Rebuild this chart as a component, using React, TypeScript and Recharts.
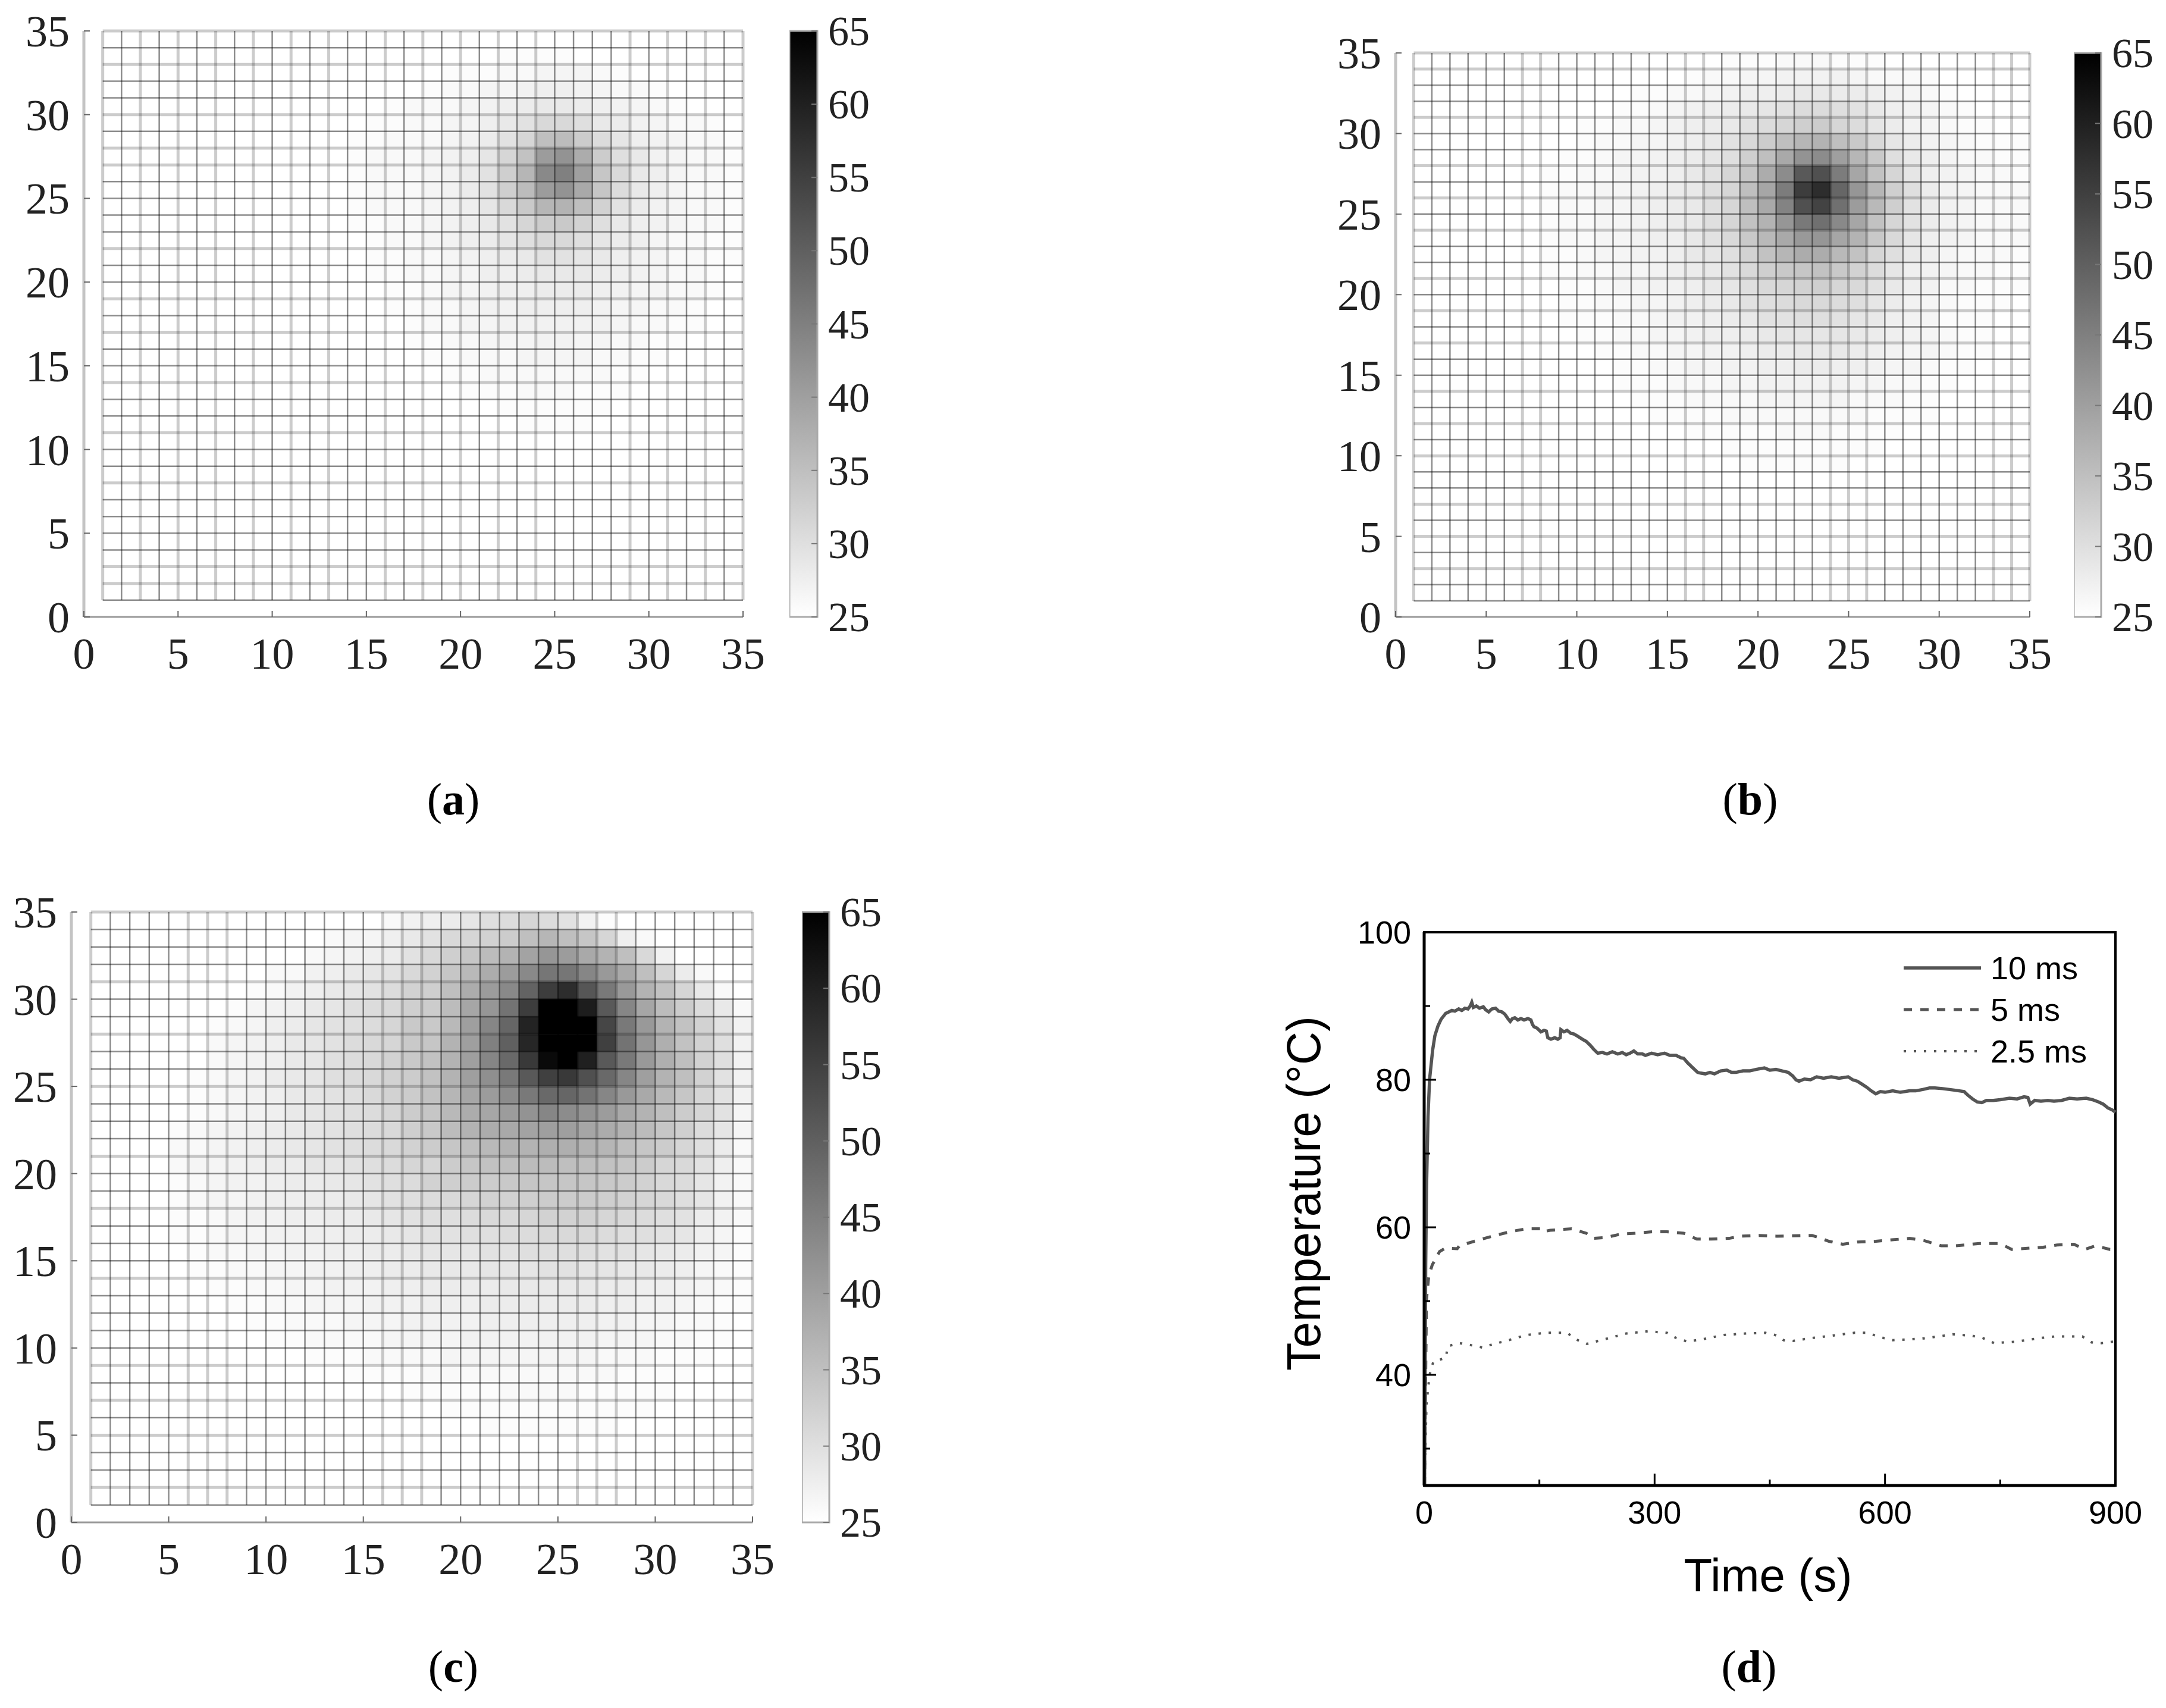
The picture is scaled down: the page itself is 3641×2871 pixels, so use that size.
import {
  ScatterChart,
  Scatter,
  BarChart,
  Bar,
  LineChart,
  Line,
  XAxis,
  YAxis,
  ReferenceLine,
  ReferenceArea,
  Legend,
} from "recharts";

// Cell temperatures in deg C. Top row is y = 34..35, first column x = 1..2.
const TEMP_A = [
  [25,25,25,25,25,25,25,25,25,25,25,25,25,25,25,25,25,25,25,25,25,25,25,25,25,25,25,25,25,25,25,25,25,25],
  [25,25,25,25,25,25,25,25,25,25,25,25,25,25,25,25,25,25,25,25,25,25.5,25.5,25.5,25.5,25,25,25,25,25,25,25,25,25],
  [25,25,25,25,25,25,25,25,25,25,25,25,25,25,25,25,25,25,25.5,25.5,25.5,26,26,26.5,26.5,26.5,26,25.5,25,25,25,25,25,25],
  [25,25,25,25,25,25,25,25,25,25,25,25,25,25,25,25,25,25.5,26,26,26.5,26.5,27,27.5,27.5,27,26.5,26,26,25.5,25,25,25,25],
  [25,25,25,25,25,25,25,25,25,25,25,25,25,25,25,25.5,26,26,26,26.5,27,27.5,28,28.5,28.5,28,27.5,27,26.5,26,25.5,25,25,25],
  [25,25,25,25,25,25,25,25,25,25,25,25,25,25,25.5,25.5,26,26,26.5,26.5,27.5,28.5,29.5,31,31,30,28.5,28,27,26.5,26,26,25.5,25],
  [25,25,25,25,25,25,25,25,25,25,25,25,25,25.5,25.5,26,26,26,26.5,27,28,29.5,31.5,35,35.5,33,30.5,29,27.5,27,26.5,26,26,25.5],
  [25,25,25,25,25,25,25,25,25,25,25,25,25,25.5,26,26,26,26.5,27,27.5,29,31.5,34.5,40.5,42,38,33,30,28.5,27,26.5,26,26,25.5],
  [25,25,25,25,25,25,25,25,25,25,25,25,25,25.5,26,26,26,26.5,27,28,29.5,32.5,36.5,43.5,45,40,34,31,28.5,27.5,26.5,26,26,25.5],
  [25,25,25,25,25,25,25,25,25,25,25,25,25,25.5,26,26,26,26.5,27,28,29.5,32.5,35.5,40.5,42,38.5,34,30.5,28.5,27.5,26.5,26,26,25.5],
  [25,25,25,25,25,25,25,25,25,25,25,25,25,25.5,26,26,26,26.5,27,27.5,29,31,33.5,36.5,37,35,32,29.5,28,27,26.5,26,26,25.5],
  [25,25,25,25,25,25,25,25,25,25,25,25,25,25.5,25.5,26,26,26.5,27,27.5,28.5,29.5,31.5,33,33.5,32,30,28.5,27.5,27,26.5,26,26,25.5],
  [25,25,25,25,25,25,25,25,25,25,25,25,25,25,25.5,26,26,26.5,27,27.5,28,29,30,31,31,30,29,28,27.5,26.5,26,26,25.5,25.5],
  [25,25,25,25,25,25,25,25,25,25,25,25,25,25,25.5,25.5,26,26,26.5,27,27.5,28,28.5,29.5,29.5,29,28.5,27.5,27,26.5,26,26,25.5,25.5],
  [25,25,25,25,25,25,25,25,25,25,25,25,25,25,25.5,25.5,26,26,26.5,26.5,27.5,27.5,28,28.5,28.5,28.5,28,27.5,27,26.5,26,26,25.5,25],
  [25,25,25,25,25,25,25,25,25,25,25,25,25,25,25,25.5,25.5,26,26.5,26.5,27,27.5,27.5,28,28,28,27.5,27,26.5,26.5,26,26,25.5,25],
  [25,25,25,25,25,25,25,25,25,25,25,25,25,25,25,25.5,25.5,26,26,26.5,27,27,27.5,27.5,27.5,27.5,27,26.5,26.5,26,26,25.5,25,25],
  [25,25,25,25,25,25,25,25,25,25,25,25,25,25,25,25,25.5,26,26,26.5,26.5,27,27,27,27,27,27,26.5,26,26,25.5,25.5,25,25],
  [25,25,25,25,25,25,25,25,25,25,25,25,25,25,25,25,25.5,25.5,26,26,26.5,26.5,26.5,27,27,26.5,26.5,26,26,25.5,25.5,25,25,25],
  [25,25,25,25,25,25,25,25,25,25,25,25,25,25,25,25,25,25.5,25.5,26,26,26,26.5,26.5,26.5,26.5,26,26,25.5,25.5,25,25,25,25],
  [25,25,25,25,25,25,25,25,25,25,25,25,25,25,25,25,25,25,25.5,25.5,26,26,26,26,26,26,26,25.5,25.5,25,25,25,25,25],
  [25,25,25,25,25,25,25,25,25,25,25,25,25,25,25,25,25,25,25,25.5,25.5,25.5,26,26,26,25.5,25.5,25.5,25,25,25,25,25,25],
  [25,25,25,25,25,25,25,25,25,25,25,25,25,25,25,25,25,25,25,25,25,25.5,25.5,25.5,25.5,25.5,25.5,25,25,25,25,25,25,25],
  [25,25,25,25,25,25,25,25,25,25,25,25,25,25,25,25,25,25,25,25,25,25,25.5,25.5,25.5,25.5,25,25,25,25,25,25,25,25],
  [25,25,25,25,25,25,25,25,25,25,25,25,25,25,25,25,25,25,25,25,25,25,25,25,25,25,25,25,25,25,25,25,25,25],
  [25,25,25,25,25,25,25,25,25,25,25,25,25,25,25,25,25,25,25,25,25,25,25,25,25,25,25,25,25,25,25,25,25,25],
  [25,25,25,25,25,25,25,25,25,25,25,25,25,25,25,25,25,25,25,25,25,25,25,25,25,25,25,25,25,25,25,25,25,25],
  [25,25,25,25,25,25,25,25,25,25,25,25,25,25,25,25,25,25,25,25,25,25,25,25,25,25,25,25,25,25,25,25,25,25],
  [25,25,25,25,25,25,25,25,25,25,25,25,25,25,25,25,25,25,25,25,25,25,25,25,25,25,25,25,25,25,25,25,25,25],
  [25,25,25,25,25,25,25,25,25,25,25,25,25,25,25,25,25,25,25,25,25,25,25,25,25,25,25,25,25,25,25,25,25,25],
  [25,25,25,25,25,25,25,25,25,25,25,25,25,25,25,25,25,25,25,25,25,25,25,25,25,25,25,25,25,25,25,25,25,25],
  [25,25,25,25,25,25,25,25,25,25,25,25,25,25,25,25,25,25,25,25,25,25,25,25,25,25,25,25,25,25,25,25,25,25],
  [25,25,25,25,25,25,25,25,25,25,25,25,25,25,25,25,25,25,25,25,25,25,25,25,25,25,25,25,25,25,25,25,25,25],
  [25,25,25,25,25,25,25,25,25,25,25,25,25,25,25,25,25,25,25,25,25,25,25,25,25,25,25,25,25,25,25,25,25,25],
];

const TEMP_B = [
  [25,25,25,25,25,25,25,25,25,25,25,25,25,25,25,25,25,25.5,25.5,25.5,26,26,26,25.5,25.5,25.5,25,25,25,25,25,25,25,25],
  [25,25,25,25,25,25,25,25,25,25,25,25,25,25,25,25.5,26,26,26.5,26.5,27,27,27,27,26.5,26,26,26,25.5,25,25,25,25,25],
  [25,25,25,25,25,25,25,25,25,25,25,25,25.5,25.5,26,26,26.5,27,27.5,27.5,28,28.5,28.5,28,28,27.5,27,26.5,26,25.5,25,25,25,25],
  [25,25,25,25,25,25,25,25,25,25,25,25.5,25.5,26,26.5,27,27.5,28,28.5,29,29.5,30.5,30.5,30,29.5,28.5,27.5,27,26.5,26,25.5,25,25,25],
  [25,25,25,25,25,25,25,25,25,25.5,25.5,26,26,26.5,27,27.5,28,28.5,29.5,30.5,31.5,32.5,33,31.5,30.5,29,28,27,26.5,26,25.5,25.5,25,25],
  [25,25,25,25,25,25,25,25,25,25.5,26,26,26.5,26.5,27,27.5,28.5,29.5,31,33,35,36.5,37,35,33.5,31,29,28,27,26.5,26,25.5,25.5,25.5],
  [25,25,25,25,25,25,25,25,25.5,25.5,26,26.5,26.5,27,27.5,28,29,30,32.5,35,38.5,42,43,40,36.5,33.5,30,28.5,27.5,26.5,26,26,25.5,25.5],
  [25,25,25,25,25,25,25,25.5,25.5,26,26,26.5,27,27,27.5,28.5,29.5,31.5,34,38,43,51,52.5,45.5,39,34.5,31.5,29,27.5,27,26.5,26,26,25.5],
  [25,25,25,25,25,25,25,25.5,26,26,26.5,26.5,27,27.5,28,28.5,30,31.5,35,39,45.5,55.5,58,49,41.5,36.5,32.5,30,28,27,26.5,26,26,26],
  [25,25,25,25,25,25,25,25.5,26,26,26.5,26.5,27,27.5,28,28.5,30,31.5,35,38.5,44.5,52.5,54.5,47.5,40.5,36,32.5,29.5,28,27,26.5,26,26,26],
  [25,25,25,25,25,25,25,25.5,26,26,26.5,26.5,27,27.5,28,28.5,30,31.5,34.5,37,41.5,46,47.5,43.5,39,34.5,31.5,29.5,28,27,26.5,26,26,26],
  [25,25,25,25,25,25,25,25.5,26,26,26.5,26.5,27,27.5,27.5,28.5,29.5,31,33.5,36,38.5,41,41.5,39,37,33.5,31,29,27.5,27,26.5,26,26,26],
  [25,25,25,25,25,25,25,25.5,25.5,26,26.5,26.5,27,27,27.5,28.5,29,30,32,34.5,36.5,38,38,36,34.5,31.5,30,28.5,27.5,26.5,26,26,26,25.5],
  [25,25,25,25,25,25,25,25.5,25.5,26,26,26.5,26.5,27,27.5,28,28.5,29.5,31,32.5,33.5,34,34.5,33.5,32,30.5,29,27.5,27,26.5,26,26,25.5,25.5],
  [25,25,25,25,25,25,25,25,25.5,25.5,26,26.5,26.5,27,27,27.5,28.5,29,30,31,31.5,32,32.5,31.5,31,29.5,28.5,27.5,27,26,26,25.5,25.5,25.5],
  [25,25,25,25,25,25,25,25,25.5,25.5,26,26,26.5,26.5,27,27.5,28,28.5,29.5,30,30.5,31,31,30.5,30,29,28,27,26.5,26,25.5,25.5,25.5,25],
  [25,25,25,25,25,25,25,25,25.5,25.5,25.5,26,26,26.5,27,27,27.5,28,28.5,29.5,29.5,30,30,29.5,29,28.5,27.5,27,26.5,25.5,25.5,25.5,25,25],
  [25,25,25,25,25,25,25,25,25,25.5,25.5,26,26,26.5,26.5,27,27.5,27.5,28,28.5,29,29,29,29,28.5,28,27.5,27,26.5,26,25.5,25.5,25,25],
  [25,25,25,25,25,25,25,25,25,25,25.5,25.5,26,26,26.5,26.5,27,27,27.5,28,28,28.5,28.5,28.5,28,27.5,27,26.5,26.5,26,25.5,25.5,25,25],
  [25,25,25,25,25,25,25,25,25,25,25,25.5,25.5,26,26,26.5,26.5,27,27,27.5,27.5,28,28,27.5,27.5,27,26.5,26.5,26,25.5,25.5,25,25,25],
  [25,25,25,25,25,25,25,25,25,25,25,25.5,25.5,25.5,26,26,26,26.5,26.5,27,27,27,27,27,26.5,26.5,26,26,25.5,25.5,25,25,25,25],
  [25,25,25,25,25,25,25,25,25,25,25,25,25.5,25.5,25.5,26,26,26,26,26.5,26.5,26.5,26.5,26.5,26,26,26,25.5,25.5,25,25,25,25,25],
  [25,25,25,25,25,25,25,25,25,25,25,25,25,25.5,25.5,25.5,25.5,26,26,26,26,26,26,26,26,25.5,25.5,25.5,25.5,25,25,25,25,25],
  [25,25,25,25,25,25,25,25,25,25,25,25,25,25,25,25.5,25.5,25.5,25.5,25.5,26,26,26,25.5,25.5,25.5,25.5,25,25,25,25,25,25,25],
  [25,25,25,25,25,25,25,25,25,25,25,25,25,25,25,25,25,25.5,25.5,25.5,25.5,25.5,25.5,25.5,25.5,25.5,25,25,25,25,25,25,25,25],
  [25,25,25,25,25,25,25,25,25,25,25,25,25,25,25,25,25,25,25.5,25.5,25.5,25.5,25.5,25.5,25,25,25,25,25,25,25,25,25,25],
  [25,25,25,25,25,25,25,25,25,25,25,25,25,25,25,25,25,25,25,25,25,25,25,25,25,25,25,25,25,25,25,25,25,25],
  [25,25,25,25,25,25,25,25,25,25,25,25,25,25,25,25,25,25,25,25,25,25,25,25,25,25,25,25,25,25,25,25,25,25],
  [25,25,25,25,25,25,25,25,25,25,25,25,25,25,25,25,25,25,25,25,25,25,25,25,25,25,25,25,25,25,25,25,25,25],
  [25,25,25,25,25,25,25,25,25,25,25,25,25,25,25,25,25,25,25,25,25,25,25,25,25,25,25,25,25,25,25,25,25,25],
  [25,25,25,25,25,25,25,25,25,25,25,25,25,25,25,25,25,25,25,25,25,25,25,25,25,25,25,25,25,25,25,25,25,25],
  [25,25,25,25,25,25,25,25,25,25,25,25,25,25,25,25,25,25,25,25,25,25,25,25,25,25,25,25,25,25,25,25,25,25],
  [25,25,25,25,25,25,25,25,25,25,25,25,25,25,25,25,25,25,25,25,25,25,25,25,25,25,25,25,25,25,25,25,25,25],
  [25,25,25,25,25,25,25,25,25,25,25,25,25,25,25,25,25,25,25,25,25,25,25,25,25,25,25,25,25,25,25,25,25,25],
];

const TEMP_C = [
  [25,25,25,25,25,25,25,25,25,25,25,25,25,25,25,26,27,27.5,28,29,30,30.5,31.5,30.5,29.5,27,25.5,25,25,25,25,25,25,25],
  [25,25,25,25,25,25,25,25,25,25,25,25,26,26.5,26.5,27.5,28.5,29.5,31,31.5,32,33,35,36.5,35,34,31.5,27.5,26,25,25,25,25,25],
  [25,25,25,25,25,25,25,25,25,25,25,26,26.5,27,27.5,28,29.5,31,32.5,34,35.5,37,39.5,41.5,40.5,38.5,37,35,31,27,25,25,25,25],
  [25,25,25,25,25,25,25,25,25,26,26,27,27.5,28.5,29,29.5,31,32,34,36,38,40.5,43.5,46.5,46.5,44,41,38.5,35,31.5,28,26,25,25],
  [25,25,25,25,25,25,25,25,25.5,26,27,27.5,28.5,29,29.5,30.5,32,32.5,35,38,40.5,43.5,49.5,55.5,58,51.5,46,41,37,34.5,31.5,28.5,26,25],
  [25,25,25,25,25,25,25,25.5,26.5,27,27.5,28.5,29,30,30.5,31,32.5,33,35.5,39,41.5,47,55.5,65,65,60.5,51,44,39,35.5,33,30.5,28.5,26],
  [25,25,25,25,25,25,25.5,26,26.5,27.5,28,29,29.5,30,30.5,31.5,33.5,33.5,36,40,44,49,59.5,65,65,65,54,46,41,37,34.5,32,29.5,27],
  [25,25,25,25,25,25,26,26.5,27,27.5,28.5,29,29.5,30.5,31,31.5,33.5,34,37,40,45,50,59,65,65,65,55,47,41.5,37.5,34.5,32,30,27],
  [25,25,25,25,25,25,26,26.5,27,27.5,28.5,29,30,30.5,31,32,33.5,34.5,37,40,44,48.5,56,63.5,65,60,51,46,41,37.5,35,32,30,27],
  [25,25,25,25,25,25.5,26,26.5,27,28,28.5,29,30,30.5,31,32,33,34.5,37,40,42.5,46,51,55,56,52.5,48.5,44,40,37,35,32,29.5,27],
  [25,25,25,25,25,25.5,26,26.5,27,27.5,28.5,29,29.5,30,31,32,33,34.5,36.5,39,40.5,43,46,48.5,49,47,44,41,38.5,36,34,31.5,29.5,27],
  [25,25,25,25,25,25.5,26,26.5,27,27.5,28.5,29,29.5,30,30.5,31.5,33,34,36,38,39,40.5,42,44,43,42,40.5,38.5,37,35,33,31.5,29.5,26.5],
  [25,25,25,25,25.5,26,26.5,27,27.5,28,28.5,29,29.5,30,30.5,31,32.5,33.5,35.5,37,38,38.5,39.5,40,40,39,38,37,35.5,34,32.5,30.5,29,26.5],
  [25,25,25,25,26,26,26.5,27,27.5,28,28.5,29,29.5,30,30.5,31,32,33,34,35,36,37,37,37.5,37.5,37,36.5,35,34,33,31.5,30,28,26],
  [25,25,25,25,26,26.5,26.5,27,27.5,28,28,29,29,29.5,30,30.5,31.5,31.5,33,34,34.5,35,35.5,35.5,35,35,34.5,34,33,31.5,31,29.5,27.5,26],
  [25,25,25,25,25.5,26,26.5,27,27,27.5,28,28,28.5,29,29.5,30,30.5,32,32.5,33,33,33.5,34,34,34,34,33.5,33,32,31,30.5,29,27,26],
  [25,25,25,25,25.5,26,26.5,26.5,27,27.5,27.5,28,28,28.5,29,29.5,30,30.5,31,31.5,32,32,32.5,33,33,33,32.5,32,31.5,31,30,29,27,26],
  [25,25,25,25,25.5,25.5,26,26.5,27,27,27.5,27.5,28,28,28.5,29,29.5,30,30,30.5,31,31,31.5,32,32,32,31.5,31,30.5,30,29.5,28,27,26],
  [25,25,25,25,25.5,25.5,26,26.5,26.5,27,27,27.5,27.5,28,28,28.5,29,29.5,29.5,30,30,30.5,30.5,31,31,31,30.5,30,30,29.5,29,27.5,26.5,25.5],
  [25,25,25,25,25,25.5,26,26,26.5,26.5,27,27,27.5,27.5,28,28,28.5,29,29,29,29.5,29.5,30,30,30,30,29.5,29.5,29,28.5,28,27,26.5,25.5],
  [25,25,25,25,25,25.5,25.5,26,26,26.5,26.5,27,27,27.5,27.5,28,28,28.5,28.5,28.5,29,29,29,29.5,29.5,29,29,28.5,28.5,28,27.5,26.5,26,25.5],
  [25,25,25,25,25,25,25.5,25.5,26,26,26.5,26.5,27,27,27,27.5,27.5,28,28,28,28,28.5,28.5,28.5,28.5,28.5,28,28,27.5,27.5,27,26.5,26,25.5],
  [25,25,25,25,25,25,25,25.5,25.5,26,26,26.5,26.5,26.5,27,27,27,27.5,27.5,27.5,28,28,28,28,28,28,27.5,27.5,27,27,26.5,26,25.5,25.5],
  [25,25,25,25,25,25,25,25,25.5,25.5,26,26,26,26.5,26.5,26.5,27,27,27,27,27.5,27.5,27.5,27.5,27.5,27.5,27,27,26.5,26.5,26,26,25.5,25],
  [25,25,25,25,25,25,25,25,25,25.5,25.5,26,26,26,26,26.5,26.5,26.5,26.5,27,27,27,27,27,27,27,26.5,26.5,26.5,26,26,25.5,25.5,25],
  [25,25,25,25,25,25,25,25,25,25,25,25.5,25.5,25.5,26,26,26,26,26.5,26.5,26.5,26.5,26.5,26.5,26.5,26.5,26,26,26,25.5,25.5,25.5,25,25],
  [25,25,25,25,25,25,25,25,25,25,25,25,25,25.5,25.5,25.5,25.5,26,26,26,26,26,26,26,26,26,26,25.5,25.5,25.5,25.5,25,25,25],
  [25,25,25,25,25,25,25,25,25,25,25,25,25,25,25,25,25.5,25.5,25.5,25.5,25.5,26,26,26,26,25.5,25.5,25.5,25.5,25.5,25,25,25,25],
  [25,25,25,25,25,25,25,25,25,25,25,25,25,25,25,25,25,25,25.5,25.5,25.5,25.5,25.5,25.5,25.5,25.5,25.5,25.5,25.5,25,25,25,25,25],
  [25,25,25,25,25,25,25,25,25,25,25,25,25,25,25,25,25,25,25,25,25.5,25.5,25.5,25.5,25.5,25.5,25.5,25,25,25,25,25,25,25],
  [25,25,25,25,25,25,25,25,25,25,25,25,25,25,25,25,25,25,25,25,25,25,25,25,25,25,25,25,25,25,25,25,25,25],
  [25,25,25,25,25,25,25,25,25,25,25,25,25,25,25,25,25,25,25,25,25,25,25,25,25,25,25,25,25,25,25,25,25,25],
  [25,25,25,25,25,25,25,25,25,25,25,25,25,25,25,25,25,25,25,25,25,25,25,25,25,25,25,25,25,25,25,25,25,25],
  [25,25,25,25,25,25,25,25,25,25,25,25,25,25,25,25,25,25,25,25,25,25,25,25,25,25,25,25,25,25,25,25,25,25],
];

const MAP_TICKS = [0, 5, 10, 15, 20, 25, 30, 35];
const BAR_TICKS = [25, 30, 35, 40, 45, 50, 55, 60, 65];
const GRID_LINES = [1,2,3,4,5,6,7,8,9,10,11,12,13,14,15,16,17,18,19,20,21,22,23,24,25,26,27,28,29,30,31,32,33,34,35];
const MESH_EXTENT = [{ x: 0, y: 0 }, { x: 35, y: 35 }];

// grid lines that came out soft and wide in the resampled original
const SOFT_X_A = [1,3,5,7,9,11,13,16,18,20,22,24,29,31,33,35];
const SOFT_Y_A = [2,3,8,11,14,17,19,22,27,28,30,33,35];
const SOFT_X_B = [1,7,8,16,17,24,25,26,33,34,35];
const SOFT_Y_B = [3,5,7,10,12,14,17,19,21,24,26,28,31,34,35];
const SOFT_X_C = [1,6,7,8,16,17,18,26,27,28,35];
const SOFT_Y_C = [2,5,7,9,14,18,21,25,28,31,35];

const TIME_TICKS = [0, 150, 300, 450, 600, 750, 900];
const TIME_LABELS = [0, 300, 600, 900];
const TEMP_TICKS = [30, 40, 50, 60, 70, 80, 90, 100];
const TEMP_LABELS = [40, 60, 80, 100];

const TIME_10 = [0.5,2,3,5,7,11,14,18,22,28,32,36,40,45,49,53,57,60,62,64,68,72,77,80,84,88,93,97,101,105,109,112,115,118,122,126,130,135,139,141,143,147,152,156,159,161,165,170,174,177,178,182,186,191,195,200,206,211,216,221,226,232,238,245,252,258,263,268,273,278,284,288,296,304,313,320,328,334,338,343,350,356,360,366,372,378,386,394,400,406,415,424,432,443,450,458,466,474,480,484,488,495,503,511,520,530,540,552,558,564,570,576,582,588,594,600,610,620,632,640,650,658,665,675,690,703,708,714,720,726,732,741,750,762,772,781,786,789,795,803,812,820,830,840,850,862,870,878,884,890,896,900];
const TEMP_10 = [25,55,65,75,80,84,86,87.3,88.2,89,89.2,89.4,89.3,89.6,89.4,89.7,89.6,90,90.5,89.8,90,89.7,89.9,89.5,89.2,89.6,89.7,89.3,89.2,88.9,88.3,87.9,88.3,88.4,88.1,88.3,88.1,88.3,88.1,87.5,87.2,87,86.5,86.7,86.6,85.7,85.5,85.7,85.5,85.7,86.8,86.5,86.7,86.3,86.2,85.9,85.5,85.2,84.7,84.1,83.6,83.7,83.5,83.8,83.5,83.7,83.4,83.6,83.9,83.5,83.5,83.3,83.6,83.4,83.6,83.3,83.3,83,82.9,82.3,81.6,81,80.9,80.8,81,80.8,81.2,81.3,81,81,81.2,81.2,81.4,81.6,81.3,81.4,81.2,81,80.5,80,79.8,80.1,80,80.4,80.2,80.4,80.2,80.4,80,79.8,79.4,79,78.5,78.1,78.4,78.3,78.5,78.3,78.5,78.5,78.7,78.9,78.9,78.8,78.6,78.4,77.9,77.4,77,76.9,77.2,77.2,77.3,77.5,77.4,77.7,77.6,76.7,77.2,77.1,77.2,77.1,77.2,77.5,77.4,77.5,77.3,77,76.7,76.2,75.9,75.6];

const TIME_5 = [0.5,3,6,10.5,20,28,43,46,65,89,112,133,152,155,164,192,211,220,235.5,257,276,298,316,338,355,374,397,412,436,459,505,514,527,545,564,588,609,632,651,673,692,723,750,765,806,824,846,860,874,893,900];
const TEMP_5 = [25,50.2,53.4,54.9,56.7,57.2,57.1,57.5,58.1,58.8,59.4,59.8,59.8,59.4,59.6,59.8,59.2,58.5,58.6,59.1,59.2,59.4,59.4,59.2,58.4,58.4,58.5,58.8,58.9,58.8,58.9,58.6,58.1,57.7,58,58.1,58.3,58.5,58.2,57.5,57.5,57.8,57.8,57,57.3,57.6,57.7,57,57.5,57,57];

const TIME_25 = [0.5,3,7,12,28,31,46,62,76,88,110,133,158,186,200,212,234,263,291,316,328,343,366,390,418,444,457,468,480,505,530,560,576,598,610,648,676,688,713,727,742,771,803,821,857,869,882,897,900];
const TEMP_25 = [25,36,40,41.8,42.3,43.9,44.3,44,43.7,44.1,44.7,45.4,45.7,45.7,44.7,44.2,44.8,45.6,45.9,45.7,45,44.5,44.9,45.4,45.6,45.7,45.4,44.7,44.6,45,45.3,45.7,45.7,45,44.7,44.9,45.3,45.5,45.3,45,44.3,44.5,45,45.2,45.2,44.4,44.3,44.5,44.5];

const SERIF = "'Liberation Serif', serif";
const SANS = "'Liberation Sans', sans-serif";

const PAD_LEFT = 120;
const PAD_BOTTOM = 110;
const PAD_EDGE = 50;

function shade(v: number) {
  const g = Math.round(255 * (1 - (v - 25) / 40));
  return `rgb(${g},${g},${g})`;
}

function toCells(rows: number[][]) {
  const cells: { x: number; y: number; fill: string }[] = [];
  rows.forEach((row, r) => {
    row.forEach((v, c) => {
      cells.push({ x: c + 1.5, y: 34.5 - r, fill: shade(v) });
    });
  });
  return cells;
}

function MapXTick({ x, y, payload }: any) {
  return (
    <g>
      <line x1={x} x2={x} y1={y} y2={y - 10} stroke="#666" strokeWidth={2} />
      <text x={x} y={y + 87} textAnchor="middle" fontFamily={SERIF} fontSize={74} fill="#222">
        {payload.value}
      </text>
    </g>
  );
}

function MapYTick({ x, y, payload }: any) {
  return (
    <g>
      <line x1={x} x2={x + 10} y1={y} y2={y} stroke="#666" strokeWidth={2} />
      <text x={x - 24} y={y + 26} textAnchor="end" fontFamily={SERIF} fontSize={74} fill="#222">
        {payload.value}
      </text>
    </g>
  );
}

function BarTick({ x, y, payload }: any) {
  return (
    <g>
      <line x1={x - 10} x2={x} y1={y} y2={y} stroke="#777" strokeWidth={2} />
      <text x={x + 18} y={y + 24} fontFamily={SERIF} fontSize={70} fill="#222">
        {payload.value}
      </text>
    </g>
  );
}

interface HeatPanelProps {
  id: string;
  temps: number[][];
  softX: number[];
  softY: number[];
  left: number;
  right: number;
  top: number;
  bottom: number;
  barLeft: number;
  barRight: number;
}

function HeatPanel({ id, temps, softX, softY, left, right, top, bottom, barLeft, barRight }: HeatPanelProps) {
  const plotW = right - left;
  const plotH = bottom - top;
  const cellW = plotW / 35;
  const cellH = plotH / 35;
  const cells = toCells(temps);
  const chartW = PAD_LEFT + plotW + PAD_EDGE;
  const chartH = PAD_EDGE + plotH + PAD_BOTTOM;
  const chartMargin = { top: PAD_EDGE, right: PAD_EDGE, bottom: 0, left: 0 };
  // black with alpha so the mesh stays invisible on the saturated cells
  const lineStyle = (soft: boolean) =>
    soft
      ? { stroke: "rgba(0,0,0,0.2)", strokeWidth: 5 }
      : { stroke: "rgba(0,0,0,0.45)", strokeWidth: 2.5 };

  return (
    <>
      <div style={{ position: "absolute", left: left - PAD_LEFT, top: top - PAD_EDGE }}>
        <ScatterChart width={chartW} height={chartH} margin={chartMargin}>
          <XAxis
            type="number"
            dataKey="x"
            domain={[0, 35]}
            ticks={MAP_TICKS}
            interval={0}
            height={PAD_BOTTOM}
            tickLine={false}
            tickSize={0}
            tickMargin={0}
            tick={<MapXTick />}
            axisLine={{ stroke: "#999", strokeWidth: 3 }}
          />
          <YAxis
            type="number"
            dataKey="y"
            domain={[0, 35]}
            ticks={MAP_TICKS}
            interval={0}
            width={PAD_LEFT}
            tickLine={false}
            tickSize={0}
            tickMargin={0}
            tick={<MapYTick />}
            axisLine={{ stroke: "#c4c4c4", strokeWidth: 5 }}
          />
          <Scatter
            data={cells}
            isAnimationActive={false}
            shape={(p: any) => (
              <rect
                x={p.cx - cellW / 2}
                y={p.cy - cellH / 2}
                width={cellW + 0.5}
                height={cellH + 0.5}
                fill={p.payload.fill}
              />
            )}
          />
        </ScatterChart>
      </div>
      {/* mesh lines sit in a second chart on the same axes, above the cells */}
      <div style={{ position: "absolute", left: left - PAD_LEFT, top: top - PAD_EDGE }}>
        <ScatterChart width={chartW} height={chartH} margin={chartMargin}>
          <XAxis type="number" dataKey="x" domain={[0, 35]} height={PAD_BOTTOM} tick={false} tickLine={false} axisLine={false} />
          <YAxis type="number" dataKey="y" domain={[0, 35]} width={PAD_LEFT} tick={false} tickLine={false} axisLine={false} />
          <Scatter data={MESH_EXTENT} isAnimationActive={false} shape={() => <g />} />
          {GRID_LINES.map((k) => (
            <ReferenceLine
              key={`v${k}`}
              segment={[{ x: k, y: 1 }, { x: k, y: 35 }]}
              {...lineStyle(softX.includes(k))}
            />
          ))}
          {GRID_LINES.map((k) => (
            <ReferenceLine
              key={`h${k}`}
              segment={[{ x: 1, y: k }, { x: 35, y: k }]}
              {...lineStyle(softY.includes(k))}
            />
          ))}
        </ScatterChart>
      </div>
      <div style={{ position: "absolute", left: barLeft, top: top - PAD_EDGE }}>
        <BarChart
          width={barRight - barLeft + 130}
          height={PAD_EDGE + plotH + PAD_EDGE}
          data={[{ name: "temperature", range: [25, 65] }]}
          margin={{ top: PAD_EDGE, right: 0, bottom: PAD_EDGE, left: 0 }}
          barCategoryGap={0}
        >
          <defs>
            <linearGradient id={`ramp-${id}`} x1="0" y1="0" x2="0" y2="1">
              <stop offset="0%" stopColor="#000" />
              <stop offset="100%" stopColor="#fff" />
            </linearGradient>
          </defs>
          <XAxis dataKey="name" hide />
          <YAxis
            orientation="right"
            type="number"
            domain={[25, 65]}
            ticks={BAR_TICKS}
            interval={0}
            width={130}
            axisLine={false}
            tickLine={false}
            tickSize={0}
            tickMargin={0}
            tick={<BarTick />}
          />
          <Bar
            dataKey="range"
            fill={`url(#ramp-${id})`}
            stroke="#aaa"
            strokeWidth={3}
            isAnimationActive={false}
          />
        </BarChart>
      </div>
    </>
  );
}

function Caption({ letter, x, baseline }: { letter: string; x: number; baseline: number }) {
  return (
    <div
      style={{
        position: "absolute",
        left: x - 100,
        top: baseline - 68,
        width: 200,
        textAlign: "center",
        fontFamily: SERIF,
        fontSize: 76,
        lineHeight: "normal",
        color: "#000",
      }}
    >
      (<b>{letter}</b>)
    </div>
  );
}

function TimeTick({ x, y, payload }: any) {
  const major = TIME_LABELS.includes(payload.value);
  return (
    <g>
      <line x1={x} x2={x} y1={y} y2={y - (major ? 20 : 10)} stroke="#000" strokeWidth={3} />
      {major && (
        <text x={x} y={y + 64} textAnchor="middle" fontFamily={SANS} fontSize={54} fill="#000">
          {payload.value}
        </text>
      )}
    </g>
  );
}

function TempTick({ x, y, payload }: any) {
  const major = TEMP_LABELS.includes(payload.value);
  return (
    <g>
      <line x1={x} x2={x + (major ? 20 : 10)} y1={y} y2={y} stroke="#000" strokeWidth={3} />
      {major && (
        <text x={x - 22} y={y + 19} textAnchor="end" fontFamily={SANS} fontSize={54} fill="#000">
          {payload.value}
        </text>
      )}
    </g>
  );
}

function TempAxisLabel() {
  // squeezed along its length, as in the original figure
  return (
    <text
      transform="translate(125,489) rotate(-90) scale(0.97,1)"
      textAnchor="middle"
      fontFamily={SANS}
      fontSize={80}
      fill="#000"
    >
      Temperature (°C)
    </text>
  );
}

function TimeAxisLabel() {
  return (
    <text x={878} y={1158} textAnchor="middle" fontFamily={SANS} fontSize={78} fill="#000">
      Time (s)
    </text>
  );
}

function LegendBox({ payload }: any) {
  return (
    <div style={{ fontFamily: SANS, fontSize: 54, color: "#000" }}>
      {payload.map((entry: any) => (
        <div key={entry.value} style={{ display: "flex", alignItems: "center", height: 70 }}>
          <svg width={146} height={20}>
            <line
              x1={0}
              x2={130}
              y1={10}
              y2={10}
              stroke={entry.color}
              strokeWidth={entry.payload.strokeWidth}
              strokeDasharray={entry.payload.strokeDasharray}
            />
          </svg>
          <span>{entry.value}</span>
        </div>
      ))}
    </div>
  );
}

function zip(times: number[], temps: number[]) {
  return times.map((t, i) => ({ t, v: temps[i] }));
}

function TemperatureChart() {
  return (
    <div style={{ position: "absolute", left: 2394 - 300, top: 1567 - 50 }}>
      <LineChart
        width={300 + 1162 + 70}
        height={50 + 930 + 200}
        margin={{ top: 50, right: 70, bottom: 0, left: 0 }}
      >
        <XAxis
          type="number"
          dataKey="t"
          domain={[0, 900]}
          ticks={TIME_TICKS}
          interval={0}
          height={200}
          tickLine={false}
          tickSize={0}
          tickMargin={0}
          tick={<TimeTick />}
          axisLine={{ stroke: "#000", strokeWidth: 5 }}
          label={<TimeAxisLabel />}
        />
        <YAxis
          type="number"
          domain={[25, 100]}
          ticks={TEMP_TICKS}
          interval={0}
          width={300}
          tickLine={false}
          tickSize={0}
          tickMargin={0}
          tick={<TempTick />}
          axisLine={{ stroke: "#000", strokeWidth: 5 }}
          label={<TempAxisLabel />}
        />
        <ReferenceArea x1={0} x2={900} y1={25} y2={100} fill="none" stroke="#000" strokeWidth={4} />
        <Line
          data={zip(TIME_10, TEMP_10)}
          dataKey="v"
          name="10 ms"
          stroke="#555"
          strokeWidth={5.5}
          dot={false}
          isAnimationActive={false}
        />
        <Line
          data={zip(TIME_5, TEMP_5)}
          dataKey="v"
          name="5 ms"
          stroke="#555"
          strokeWidth={5}
          strokeDasharray="14 14"
          dot={false}
          isAnimationActive={false}
        />
        <Line
          data={zip(TIME_25, TEMP_25)}
          dataKey="v"
          name="2.5 ms"
          stroke="#555"
          strokeWidth={4}
          strokeDasharray="4 13"
          dot={false}
          isAnimationActive={false}
        />
        <Legend
          layout="vertical"
          align="center"
          verticalAlign="middle"
          itemSorter={null}
          content={<LegendBox />}
          wrapperStyle={{ left: 1106, top: 75, width: 400 }}
        />
      </LineChart>
    </div>
  );
}

export default function App() {
  return (
    <div
      style={{
        position: "absolute",
        left: 0,
        top: 0,
        width: 3641,
        height: 2871,
        background: "#fff",
        overflow: "hidden",
      }}
    >
      <HeatPanel
        id="a"
        temps={TEMP_A}
        softX={SOFT_X_A}
        softY={SOFT_Y_A}
        left={141}
        right={1249}
        top={52}
        bottom={1037}
        barLeft={1327}
        barRight={1374}
      />
      <HeatPanel
        id="b"
        temps={TEMP_B}
        softX={SOFT_X_B}
        softY={SOFT_Y_B}
        left={2346}
        right={3412}
        top={89}
        bottom={1037}
        barLeft={3486}
        barRight={3532}
      />
      <HeatPanel
        id="c"
        temps={TEMP_C}
        softX={SOFT_X_C}
        softY={SOFT_Y_C}
        left={120}
        right={1265}
        top={1533}
        bottom={2559}
        barLeft={1348}
        barRight={1394}
      />
      <TemperatureChart />
      <Caption letter="a" x={762} baseline={1368} />
      <Caption letter="b" x={2942} baseline={1368} />
      <Caption letter="c" x={762} baseline={2826} />
      <Caption letter="d" x={2940} baseline={2826} />
    </div>
  );
}
